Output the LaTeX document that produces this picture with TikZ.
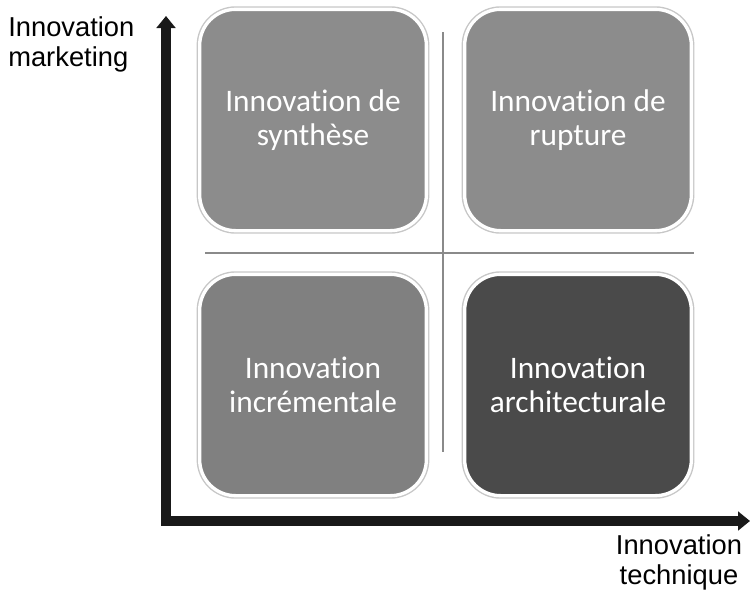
\documentclass[tikz,border=0pt]{standalone}
\usepackage{fontspec}
\setmainfont{Carlito}[Ligatures={NoCommon}]
\newfontfamily\arialfont{Liberation Sans}
\usetikzlibrary{arrows.meta}
\definecolor{qlight}{HTML}{8C8C8C}
\definecolor{qmid}{HTML}{808080}
\definecolor{qdark}{HTML}{4A4A4A}
\definecolor{divgray}{HTML}{8A8A8A}
\begin{document}
\begin{tikzpicture}[x=0.75pt,y=-0.75pt,
  quad/.style={rounded corners=27pt, minimum width=170pt, minimum height=166pt,
    draw=white, line width=2.5pt, align=center, text=white, inner sep=0pt,
    font=\fontsize{23.5}{25.5}\selectfont,
    preaction={draw=black!22, line width=4.6pt}},
  axislabel/.style={font=\arialfont\fontsize{20.5}{22.5}\selectfont, inner sep=0pt},
  divider/.style={draw=divgray, line width=1.1pt},
  axis/.style={line width=6.8pt, line join=miter,
    {Triangle[length=9pt,width=14pt]}-{Triangle[length=9pt,width=14pt]}}]
\useasboundingbox (0,0) rectangle (750,590);
% dividers
\coordinate (hl) at (205,253);
\coordinate (hr) at (694,253);
\coordinate (vt) at (443,32);
\coordinate (vb) at (443,452);
\draw[divider] (hl) -- (hr);
\draw[divider] (vt) -- (vb);
% boxes
\node[quad, fill=qlight] (tl) at (313,120) {Innovation de\\synthèse};
\node[quad, fill=qlight] (tr) at (578,120) {Innovation de\\rupture};
\node[quad, fill=qmid] (bl) at (313,385) {Innovation\\incrémentale};
\node[quad, fill=qdark] (br) at (578,385) {Innovation\\architecturale};
% axes
\coordinate (ytip) at (166,16);
\coordinate (O) at (166,521);
\coordinate (xtip) at (750,521);
\draw[axis, black!90] (ytip) -- (O) -- (xtip);
% labels
\node[axislabel, anchor=north west, align=left] (ylab) at (8,16) {Innovation\\marketing};
\node[axislabel, anchor=north, align=center] (xlab) at (679,534) {Innovation\\technique};
\end{tikzpicture}
\end{document}
